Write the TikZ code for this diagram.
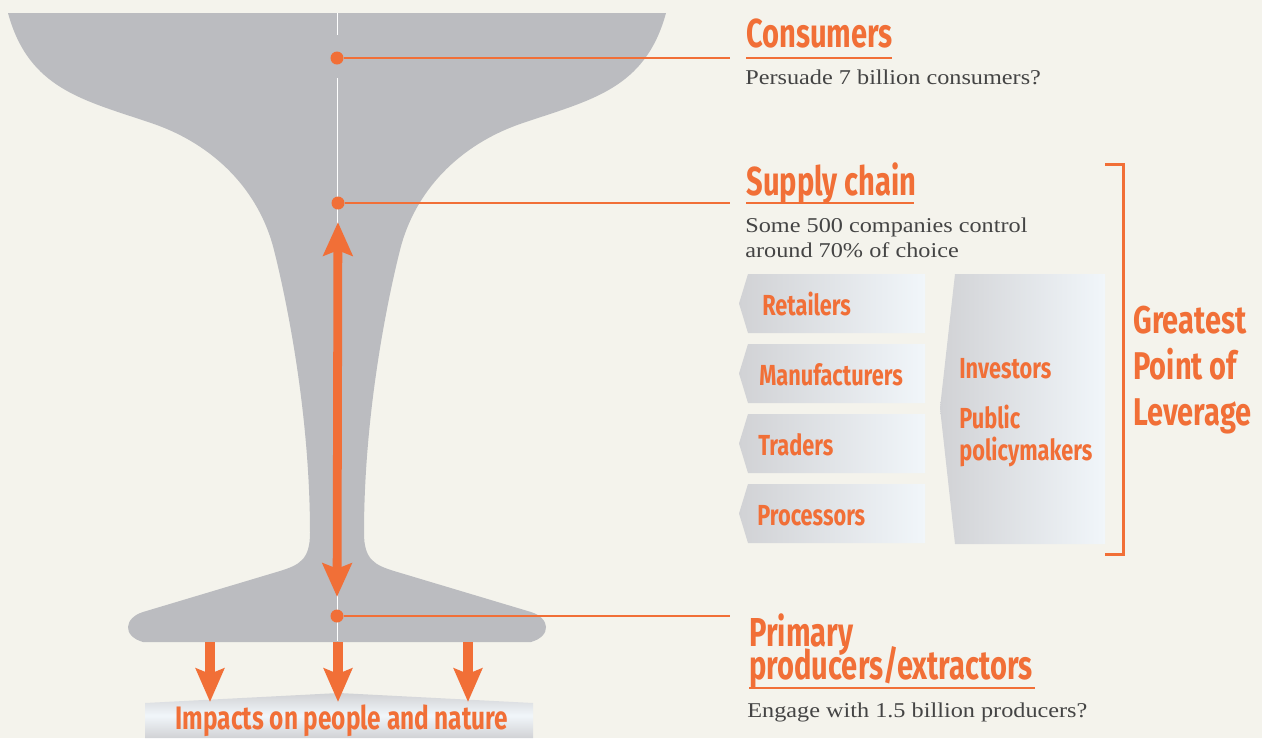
\documentclass[tikz,border=0pt]{standalone}
\usepackage{fontspec}
\setmainfont{Liberation Serif}[FakeStretch=1.15]
\newfontfamily\headfont{Fira Sans}[FakeStretch=0.75]
\newfontfamily\titlefont{Fira Sans}[FakeStretch=0.72]
\usetikzlibrary{arrows.meta}

\definecolor{paper}{HTML}{F4F3EC}
\definecolor{glass}{HTML}{BBBCC0}
\definecolor{accent}{HTML}{F16F37}
\definecolor{bodytext}{HTML}{444444}
\definecolor{boxdark}{HTML}{D1D2D5}
\definecolor{boxlight}{HTML}{F1F6FA}

\begin{document}
\begin{tikzpicture}[x=0.02cm, y=-0.02cm,
    head/.style={font=\titlefont\bfseries\fontsize{23}{26}\selectfont,
      text=accent, anchor=base west, inner sep=0pt},
    body/.style={font=\fontsize{12}{14.2}\selectfont,
      text=bodytext, anchor=base west, inner sep=0pt},
    boxlabel/.style={font=\headfont\bfseries\fontsize{16.5}{18.1}\selectfont,
      text=accent, anchor=base west, inner sep=0pt},
    dot/.style={circle, fill=accent, inner sep=0pt, minimum size=7.4pt},
    lead/.style={draw=accent, line width=1.2pt},
    uline/.style={draw=accent, line width=1.5pt},
    bigarrow/.style={draw=accent, line width=5pt,
      {Stealth[length=19pt, width=16.5pt, inset=3pt]}-{Stealth[length=19pt, width=16.5pt, inset=3pt]}},
    downarrow/.style={draw=accent, line width=5.6pt,
      -{Stealth[length=19pt, width=16pt, inset=3pt]}},
    chevron/.style={left color=boxdark, right color=boxlight, draw=none}]

    % background and page size
    \fill[paper] (0,0) rectangle (1262,738);
    \useasboundingbox (0,0) rectangle (1262,738);

    % the glass
    \fill[glass] (8,13) -- (666,13)
      .. controls (645,90) and (590,100) .. (520,124)
      .. controls (460,145) and (415,190) .. (400,250)
      .. controls (385,310) and (364,420) .. (364,533)
      .. controls (364,560) and (375,565) .. (394,571)
      -- (531,612)
      .. controls (550,618) and (552,636) .. (531,642)
      -- (143,642)
      .. controls (122,636) and (124,618) .. (143,612)
      -- (280,571)
      .. controls (299,565) and (310,560) .. (310,533)
      .. controls (310,420) and (289,310) .. (274,250)
      .. controls (259,190) and (214,145) .. (154,124)
      .. controls (84,100) and (29,90) .. (8,13) -- cycle;
    \draw[white, line width=0.5pt] (337,13) -- (337,35);
    \draw[white, line width=0.5pt] (337,78) -- (337,641);

    % impacts band
    \shade[top color=boxdark, bottom color=boxdark, middle color=boxlight]
      (145,703) -- (339,693) -- (533,703) -- (533,738) -- (145,738) -- cycle;
    \node[head, font=\headfont\bfseries\fontsize{18.5}{22}\selectfont, anchor=base]
      (impacts) at (342,729) {Impacts on people and nature};

    % dots and leaders
    \node[dot] (dcons) at (337,58) {};
    \node[dot] (dsup) at (338,203) {};
    \node[dot] (dprim) at (337,616) {};
    \coordinate (lcons) at (730,58);
    \coordinate (lsup) at (730,203);
    \coordinate (lprim) at (730,616);
    \draw[lead] (dcons) -- (lcons);
    \draw[lead] (dsup) -- (lsup);
    \draw[lead] (dprim) -- (lprim);

    \draw[bigarrow, shorten <=7pt, shorten >=7pt] (dsup) -- (dprim);

    % arrows into the band
    \foreach \x/\name in {210/left, 338/mid, 468/right} {
      \coordinate (f\name) at (\x,642);
      \coordinate (t\name) at (\x,702);
      \draw[downarrow] (f\name) -- (t\name);
    }

    % headings
    \node[head] (cons) at (746,47) {Consumers};
    \draw[uline] (746,58) -- (892,58);
    \node[body] (consq) at (745,84) {Persuade 7 billion consumers?};

    \node[head] (sup) at (746,195) {Supply chain};
    \draw[uline] (746,203) -- (914,203);
    \node[body] (supq) at (745,232) {Some 500 companies control};
    \node[body] (supq2) at (745,257) {around 70\% of choice};

    \node[head, align=left, anchor=north west] (prim) at (749,613)
      {Primary\\[-6.8pt]producers/extractors};
    \draw[uline] (749,688) -- (1035,688);
    \node[body] (primq) at (747,717) {Engage with 1.5 billion producers?};

    % supply chain boxes
    \foreach \t/\b/\txt/\tx in {274/333/Retailers/762, 344/403/Manufacturers/759,
        414/473/Traders/758, 484/543/Processors/757} {
      \path[chevron] (748,\t) -- (925,\t) -- (925,\b) -- (748,\b)
        -- (739,{(\t+\b)/2}) -- cycle;
      \node[boxlabel] (\txt) at (\tx,{\b-18}) {\txt};
    }
    \path[chevron] (955,274) -- (1105,274) -- (1105,544) -- (955,544)
      -- (940,408) -- cycle;
    \node[boxlabel] (invest) at (959,378) {Investors};
    \node[boxlabel] (policy) at (959,428) {Public};
    \node[boxlabel] (policy2) at (959,460) {policymakers};

    % bracket
    \draw[accent, line width=1.7pt] (1105,164) -- (1123,164) -- (1123,554) -- (1105,554);
    \node[head, font=\headfont\bfseries\fontsize{22}{26}\selectfont,
      align=left, anchor=north west] (lever) at (1133,306)
      {Greatest\\Point of\\Leverage};
\end{tikzpicture}
\end{document}
